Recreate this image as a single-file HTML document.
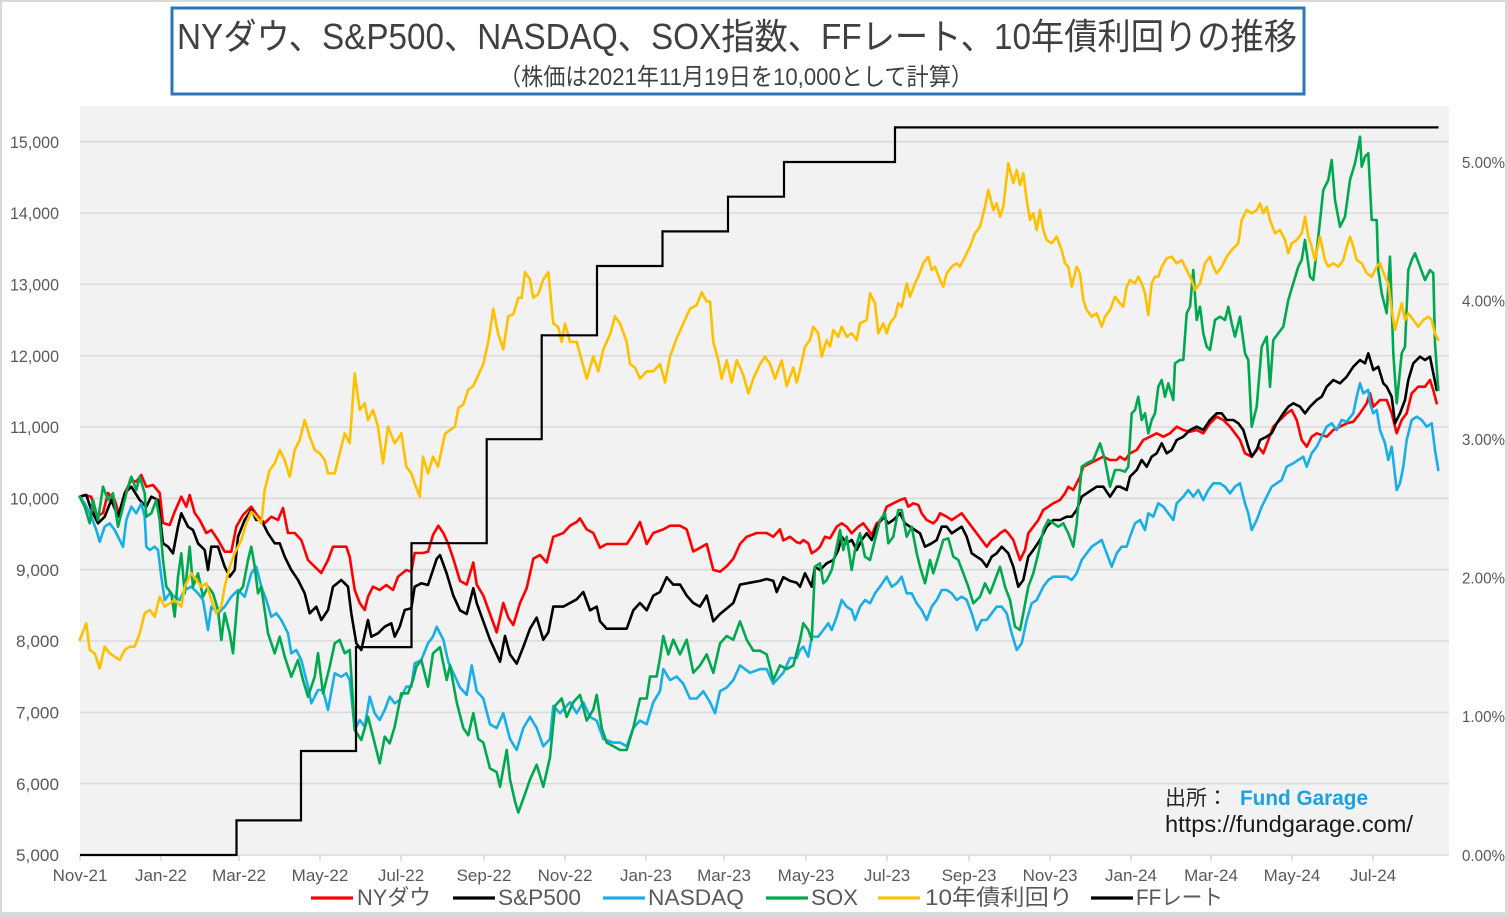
<!DOCTYPE html>
<html><head><meta charset="utf-8"><style>
html,body{margin:0;padding:0;background:#fff;}
svg{display:block;}
text{font-family:"Liberation Sans","Noto Sans CJK JP",sans-serif;}
</style></head><body>
<svg width="1508" height="917" viewBox="0 0 1508 917" xmlns="http://www.w3.org/2000/svg">
<rect x="0" y="0" width="1508" height="917" fill="#d9d9d9"/>
<rect x="2" y="2" width="1503" height="910" fill="#ffffff"/>
<!-- title box -->
<rect x="172" y="8" width="1132" height="86" fill="#fff" stroke="#2e75b6" stroke-width="3"/>
<text x="177" y="49" font-size="36" fill="#404040" textLength="1120" lengthAdjust="spacingAndGlyphs">NYダウ、S&amp;P500、NASDAQ、SOX指数、FFレート、10年債利回りの推移</text>
<text x="499" y="85" font-size="24" fill="#404040" textLength="474" lengthAdjust="spacingAndGlyphs">（株価は2021年11月19日を10,000として計算）</text>
<!-- plot area -->
<rect x="80" y="106" width="1369" height="749" fill="#f2f2f2"/>
<g stroke="#d9d9d9" stroke-width="1.6">
<line x1="80" x2="1449" y1="141.7" y2="141.7"/>
<line x1="80" x2="1449" y1="213" y2="213"/>
<line x1="80" x2="1449" y1="284.3" y2="284.3"/>
<line x1="80" x2="1449" y1="355.7" y2="355.7"/>
<line x1="80" x2="1449" y1="427" y2="427"/>
<line x1="80" x2="1449" y1="498.3" y2="498.3"/>
<line x1="80" x2="1449" y1="569.7" y2="569.7"/>
<line x1="80" x2="1449" y1="641" y2="641"/>
<line x1="80" x2="1449" y1="712.3" y2="712.3"/>
<line x1="80" x2="1449" y1="783.7" y2="783.7"/>
<line x1="80" x2="1449" y1="855" y2="855"/>
<line x1="80" x2="80" y1="855" y2="861"/><line x1="161" x2="161" y1="855" y2="861"/><line x1="239" x2="239" y1="855" y2="861"/><line x1="320" x2="320" y1="855" y2="861"/><line x1="401" x2="401" y1="855" y2="861"/><line x1="484" x2="484" y1="855" y2="861"/><line x1="565" x2="565" y1="855" y2="861"/><line x1="646" x2="646" y1="855" y2="861"/><line x1="724" x2="724" y1="855" y2="861"/><line x1="806" x2="806" y1="855" y2="861"/><line x1="887" x2="887" y1="855" y2="861"/><line x1="969" x2="969" y1="855" y2="861"/><line x1="1050" x2="1050" y1="855" y2="861"/><line x1="1131" x2="1131" y1="855" y2="861"/><line x1="1211" x2="1211" y1="855" y2="861"/><line x1="1292" x2="1292" y1="855" y2="861"/><line x1="1373" x2="1373" y1="855" y2="861"/>
</g>
<!-- left axis labels -->
<g font-size="17" fill="#595959" text-anchor="end">
<text x="59" y="147.8" textLength="49" lengthAdjust="spacingAndGlyphs">15,000</text>
<text x="59" y="219.1" textLength="49" lengthAdjust="spacingAndGlyphs">14,000</text>
<text x="59" y="290.4" textLength="49" lengthAdjust="spacingAndGlyphs">13,000</text>
<text x="59" y="361.8" textLength="49" lengthAdjust="spacingAndGlyphs">12,000</text>
<text x="59" y="433.1" textLength="49" lengthAdjust="spacingAndGlyphs">11,000</text>
<text x="59" y="504.4" textLength="49" lengthAdjust="spacingAndGlyphs">10,000</text>
<text x="59" y="575.8" textLength="43" lengthAdjust="spacingAndGlyphs">9,000</text>
<text x="59" y="647.1" textLength="43" lengthAdjust="spacingAndGlyphs">8,000</text>
<text x="59" y="718.4" textLength="43" lengthAdjust="spacingAndGlyphs">7,000</text>
<text x="59" y="789.8" textLength="43" lengthAdjust="spacingAndGlyphs">6,000</text>
<text x="59" y="861.1" textLength="43" lengthAdjust="spacingAndGlyphs">5,000</text>
</g>
<!-- right axis labels -->
<g font-size="16" fill="#595959">
<text x="1462" y="168" textLength="43" lengthAdjust="spacingAndGlyphs">5.00%</text>
<text x="1462" y="306.4" textLength="43" lengthAdjust="spacingAndGlyphs">4.00%</text>
<text x="1462" y="445" textLength="43" lengthAdjust="spacingAndGlyphs">3.00%</text>
<text x="1462" y="583.6" textLength="43" lengthAdjust="spacingAndGlyphs">2.00%</text>
<text x="1462" y="722.2" textLength="43" lengthAdjust="spacingAndGlyphs">1.00%</text>
<text x="1462" y="860.8" textLength="43" lengthAdjust="spacingAndGlyphs">0.00%</text>
</g>
<!-- x axis labels -->
<g font-size="17" fill="#595959" text-anchor="middle">
<text x="80" y="881">Nov-21</text><text x="161" y="881">Jan-22</text><text x="239" y="881">Mar-22</text><text x="320" y="881">May-22</text><text x="401" y="881">Jul-22</text><text x="484" y="881">Sep-22</text><text x="565" y="881">Nov-22</text><text x="646" y="881">Jan-23</text><text x="724" y="881">Mar-23</text><text x="806" y="881">May-23</text><text x="887" y="881">Jul-23</text><text x="969" y="881">Sep-23</text><text x="1050" y="881">Nov-23</text><text x="1131" y="881">Jan-24</text><text x="1211" y="881">Mar-24</text><text x="1292" y="881">May-24</text><text x="1373" y="881">Jul-24</text>
</g>
<!-- series -->
<g fill="none" stroke-width="2.6" stroke-linejoin="round" stroke-linecap="round">
<polyline stroke="#ff0000" points="79.7,496.7 84.7,495 91.3,496.7 96.3,516.7 103,513 108,493 114.7,500 119.7,516.7 124.7,493 131.3,480 136.3,481.7 141.3,475 146.3,486.7 153,485 159.7,493 163,523 169.7,525 174.7,511.7 181.3,496.7 186.3,506.7 189.7,495 194.7,513 199.7,520 206.3,533 211.3,530 218,540 224.7,551.7 231.3,551.7 236.3,526.7 243,515 251.3,506.7 258,516.7 264.7,523 271.3,516.7 278,520 283,508 288,533 294.7,533 301.3,540 308,560 314.7,566.7 321.3,573 328,560 333,546.7 341.3,546.7 346.3,546.7 349.7,556.7 354.7,590 359.7,603 364.7,610 368,596.7 373,586.7 379.7,590 386.3,585 393,590 398,576.7 406.3,570 411.3,571.7 414.7,553 423,553 428,551.7 433,535 438.3,525.7 443.3,533 448.3,544 453.3,558.8 460,580.9 466.7,584.6 473.3,562.5 476.7,584.6 483.3,595.6 490,614 496.7,632.4 503.3,603 508.3,617.6 513.3,625 520,603 526.7,588.2 533.3,558.8 540,555 546.7,562.5 553.3,536.8 563.3,533 570,525.7 576.7,522 580,518.4 586.7,529.4 593.3,533 600,547.8 606.7,544 616.7,544 626.7,544 631.7,536.8 640,522 646.7,544 653.3,533 663.3,529.4 670,525.7 680,525.7 686.7,529.4 693.3,551.5 700,547.8 706.7,544 713.3,569.9 720,571.7 726.7,566.2 733.3,558.8 740,544 746.7,536.8 756.7,533 766.7,533 773.3,536.8 780,529.4 783.3,540.4 790,536.8 796.7,542.3 800,543.3 803.3,540 808.3,543.3 811.7,553.3 816.7,550 820,546.7 825,536.7 830,538.3 836.7,526.7 841.7,523.3 846.7,526.7 851.7,533.3 858.3,526.7 863.3,523.3 868.3,530 871.7,535 876.7,523.3 881.7,520 886.7,506.7 893.3,503.3 900,500 905,498.3 908.3,506.7 913.3,503.3 918.3,505 921.7,513.3 926.7,520 933.3,523.3 936.7,520 940,513.3 946.7,516.7 951.7,520 956.7,516.7 961.7,513.3 966.7,520 971.7,526.7 976.7,533.3 981.7,540 986.7,546.7 991.7,540 996.7,536.7 1000,533.3 1005,530 1008.3,533.3 1013.3,540 1020,560 1025,550 1028.3,533.3 1033.3,526.7 1038.3,520 1043.3,510 1048.3,506.7 1053.3,503.3 1060,500 1065,493.3 1068.3,486.7 1073.3,490 1080,476.7 1083.3,466.7 1090,463.3 1096.7,460 1103.3,456.7 1110,460 1116.7,460 1120,456.7 1125,460 1130,453.3 1136.7,450 1143.3,440 1150,436.7 1156.7,433.3 1163.3,436.7 1170,433.3 1176.7,426.7 1183.3,430 1190,431.7 1196.7,430 1203.3,433.3 1210,423.3 1216.7,416.7 1223.3,420 1230,426.7 1235,433.3 1240,440 1245,453.3 1251.7,456.7 1258.3,446.7 1263.3,453.3 1268.3,440 1273.3,426.7 1280,420 1286.7,413.3 1291.7,410 1296.7,420 1301.7,440 1306.7,446.7 1311.7,436.7 1316.7,433.3 1321.7,435 1326.7,436.7 1333.3,430 1340,426.7 1346.7,423.3 1353.3,421.7 1360,413.3 1366.7,403.3 1370,393.3 1373.3,406.7 1380,400 1386.7,400 1391.7,413.3 1396.7,433.3 1401.7,420 1406.7,413.3 1411.7,393.3 1418.3,386.7 1425,386.7 1430,380 1433.3,390 1436.7,403.3"/>
<polyline stroke="#000000" points="79.7,496.7 86.3,495 91.3,510 98,523.3 104.7,516.7 111.3,500 118,516.7 124.7,493.3 131.3,486.7 139.7,500 146.3,506.7 151.3,496.7 158,500 163,543.3 168,546.7 173,553.3 178,526.7 181.3,513.3 188,526.7 193,530 198,543.3 204.7,550 208,570 211.3,546.7 218,546.7 224.7,566.7 229.7,576.7 234.7,570 238,536.7 244.7,520 251.3,510 256.3,520 261.3,520 268,533.3 274.7,543.3 279.7,543.3 284.7,556.7 291.3,570 298,580 304.7,593.3 309.7,613.3 316.3,606.7 321.3,620 328,610 333,586.7 341.3,580 348,586.7 351.3,613.3 356.3,643.3 361.3,650 368,620 371.3,636.7 378,633.3 384.7,626.7 391.3,623.3 394.7,636.7 399.7,626.7 404.7,610 411.3,608.3 414.7,586.7 421.3,583.3 428,585 436.7,558.8 440,555.1 446.7,573.5 453.3,595.6 460,610.3 466.7,614 473.3,588.2 476.7,603 483.3,621.3 490,639.7 496.7,654.4 500,661.8 505,636 510,654.4 516.7,663.6 523.3,647 530,628.7 536.7,617.6 543.3,639.7 548.3,632.4 553.3,606.6 563.3,606.6 570,603 576.7,599.3 583.3,592 590,610.3 596.7,606.6 600,621.3 606.7,628.7 616.7,628.7 626.7,628.7 633.3,610.3 640,603 646.7,610.3 653.3,595.6 660,592 666.7,577.2 673.3,584.6 680,584.6 686.7,595.6 693.3,603 700,606.6 706.7,595.6 713.3,621.3 720,614 726.7,608.5 733.3,603 740,584.6 750,582.7 760,580.9 766.7,579 773.3,580.9 776.7,592 783.3,577.2 790,580.9 796.7,582.7 800,586.7 805,573.3 811.7,586.7 815,566.7 820,570 826.7,563.3 833.3,560 838.3,550 841.7,536.7 846.7,543.3 851.7,540 856.7,550 861.7,540 866.7,533.3 871.7,540 876.7,526.7 883.3,516.7 888.3,523.3 893.3,520 900,513.3 905,523.3 910,526.7 915,530 920,533.3 925,546.7 931.7,543.3 936.7,540 941.7,526.7 946.7,526.7 951.7,533.3 956.7,530 961.7,526.7 966.7,536.7 971.7,553.3 976.7,556.7 981.7,560 986.7,566.7 991.7,556.7 996.7,553.3 1001.7,546.7 1005,550 1008.3,553.3 1013.3,566.7 1018.3,586.7 1023.3,580 1028.3,556.7 1033.3,550 1040,540 1046.7,526.7 1053.3,520 1060,520 1066.7,516.7 1071.7,516.7 1076.7,510 1081.7,496.7 1086.7,493.3 1091.7,490 1096.7,486.7 1103.3,486.7 1110,496.7 1116.7,486.7 1120,486.7 1126.7,490 1130,476.7 1136.7,470 1141.7,460 1146.7,466.7 1151.7,456.7 1156.7,453.3 1161.7,443.3 1166.7,453.3 1171.7,450 1176.7,440 1183.3,436.7 1190,430 1196.7,426.7 1203.3,430 1210,420 1216.7,413.3 1221.7,413.3 1226.7,420 1233.3,420 1238.3,423.3 1243.3,430 1248.3,446.7 1251.7,456.7 1256.7,450 1260,440 1266.7,436.7 1271.7,433.3 1276.7,423.3 1283.3,413.3 1288.3,406.7 1293.3,403.3 1300,406.7 1305,413.3 1310,406.7 1316.7,400 1321.7,396.7 1326.7,386.7 1333.3,380 1340,383.3 1346.7,376.7 1353.3,366.7 1360,360 1365,363.3 1368.3,353.3 1373.3,370 1378.3,366.7 1383.3,383.3 1386.7,386.7 1391.7,396.7 1395,423.3 1400,413.3 1405,400 1408.3,380 1413.3,363.3 1420,356.7 1425,360 1430,356.7 1433.3,373.3 1436.7,390"/>
<polyline stroke="#1aaee8" points="79.7,496.7 84.7,503.3 91.3,516.7 96.3,530 99.7,541.7 104.7,526.7 109.7,523.3 114.7,530 119.7,540 123,546.7 126.3,520 131.3,506.7 136.3,513.3 141.3,503.3 144.7,516.7 146.3,546.7 149.7,550 154.7,546.7 158,550 161.3,576.7 164.7,600 169.7,593.3 174.7,596.7 179.7,600 184.7,590 191.3,586.7 198,593.3 203,600 208,630 211.3,606.7 218,613.3 224.7,606.7 231.3,596.7 238,590 244.7,596.7 251.3,573.3 256.3,566.7 261.3,586.7 266.3,600 271.3,616.7 276.3,613.3 281.3,620 288,633.3 291.3,653.3 296.3,650 301.3,660 308,686.7 311.3,703.3 318,690 323,690 328,710 334.7,673.3 341.3,676.7 346.3,673.3 349.7,680 354.7,730 359.7,720 364.7,726.7 369.7,696.7 374.7,713.3 379.7,720 384.7,710 389.7,696.7 394.7,703.3 399.7,700 406.3,686.7 411.3,686.7 414.7,663.3 421.3,660 428,643.3 433,636.7 436.7,626.8 443.3,639.7 448.3,661.8 453.3,672.8 460,687.5 466.7,694.9 471.7,665.4 476.7,691.2 483.3,698.5 490,724.3 496.7,728 503.3,713.2 510,739 516.7,750 523.3,728 530,716.9 536.7,728 543.3,746.3 550,739 553.3,705.9 560,713.2 570,702.2 576.7,713.2 583.3,702.2 590,716.9 596.7,720.6 603.3,739 613.3,742.6 620,742.6 626.7,746.3 633.3,728 640,720.6 646.7,724.3 653.3,702.2 660,691.2 663.3,669.1 670,680.1 676.7,676.5 683.3,683.8 690,698.5 696.7,698.5 703.3,691.2 710,702.2 715,713.2 720,691.2 726.7,687.5 733.3,680.1 740,665.4 750,672.8 760,669.1 766.7,669.1 773.3,683.8 783.3,672.8 790,658.1 796.7,658.1 800,650 803.3,646.7 808.3,656.7 811.7,636.7 818.3,636.7 823.3,630 828.3,623.3 831.7,630 836.7,616.7 841.7,600 846.7,606.7 851.7,610 855,620 860,606.7 865,600 870,603.3 875,593.3 880,586.7 886.7,576.7 891.7,586.7 896.7,583.3 901.7,576.7 906.7,593.3 911.7,593.3 916.7,603.3 921.7,610 926.7,620 931.7,606.7 936.7,600 941.7,590 946.7,590 951.7,593.3 956.7,600 961.7,596.7 966.7,600 971.7,613.3 976.7,630 981.7,620 986.7,620 991.7,613.3 996.7,606.7 1001.7,606.7 1006.7,613.3 1011.7,633.3 1016.7,650 1021.7,643.3 1026.7,620 1031.7,603.3 1036.7,600 1043.3,586.7 1048.3,580 1053.3,576.7 1060,576.7 1066.7,576.7 1071.7,580 1076.7,573.3 1081.7,560 1086.7,553.3 1091.7,546.7 1096.7,543.3 1101.7,540 1106.7,553.3 1111.7,566.7 1116.7,553.3 1121.7,546.7 1126.7,546.7 1130,536.7 1135,523.3 1140,520 1145,530 1148.3,513.3 1153.3,516.7 1158.3,503.3 1163.3,506.7 1168.3,513.3 1173.3,520 1176.7,503.3 1183.3,496.7 1188.3,490 1193.3,496.7 1198.3,490 1203.3,500 1208.3,490 1213.3,483.3 1220,483.3 1225,486.7 1230,493.3 1235,486.7 1240,483.3 1245,503.3 1248.3,513.3 1251.7,530 1256.7,520 1261.7,506.7 1266.7,496.7 1271.7,486.7 1276.7,483.3 1281.7,480 1286.7,466.7 1293.3,463.3 1298.3,460 1303.3,456.7 1306.7,466.7 1311.7,453.3 1316.7,446.7 1321.7,436.7 1326.7,426.7 1331.7,423.3 1336.7,430 1341.7,420 1346.7,421.7 1353.3,413.3 1356.7,396.7 1360,383.3 1363.3,393.3 1368.3,390 1370,403.3 1373.3,413.3 1376.7,410 1380,430 1385,443.3 1388.3,460 1391.7,446.7 1396.7,490 1400,483.3 1403.3,466.7 1406.7,440 1411.7,420 1416.7,416.7 1421.7,420 1426.7,426.7 1431.7,423.3 1435,450 1438.3,470"/>
<polyline stroke="#00a84f" points="79.7,496.7 84.7,506.7 89.7,523.3 93,500 98,520 103,486.7 108,500 113,493.3 118,526.7 123,506.7 128,486.7 131.3,476.7 136.3,490 139.7,476.7 144.7,493.3 146.3,516.7 151.3,513.3 156.3,500 159.7,520 163,560 166.3,586.7 171.3,593.3 174.7,616.7 178,576.7 181.3,553.3 184.7,593.3 189.7,546.7 193,586.7 198,573.3 203,596.7 208,586.7 213,593.3 218,610 221.3,640 224.7,613.3 229.7,633.3 233,653.3 238,593.3 243,586.7 248,560 251.3,546.7 254.7,566.7 258,593.3 261.3,586.7 268,633.3 274.7,653.3 279.7,636.7 284.7,656.7 291.3,676.7 298,660 303,680 308,696.7 314.7,676.7 318,653.3 323,693.3 329.7,666.7 334.7,643.3 339.7,640 344.7,653.3 349.7,650 354.7,730 361.3,740 368,716.7 374.7,743.3 379.7,763.3 384.7,736.7 389.7,743.3 394.7,726.7 401.3,693.3 408,693.3 413,680 416.3,666.7 421.3,660 428,686.7 433,653.3 440,647.1 446.7,680.1 450,665.4 456.7,702.2 463.3,728 468.3,735.3 473.3,713.2 478.3,739 483.3,742.6 490,768.4 496.7,772.1 500,786.8 506.7,750 510,779.4 515,801.5 518.3,812.5 525,794.1 530,779.4 536.7,764.7 543.3,786.8 550,757.4 555,705.9 561.7,698.5 566.7,716.9 573.3,702.2 580,694.9 586.7,720.6 593.3,709.6 596.7,694.9 601.7,727.9 606.7,742.6 613.3,746.3 620,750 626.7,750 633.3,727.9 640,698.5 646.7,698.5 650,676.5 656.7,676.5 660,658.1 663.3,636 668.3,654.4 673.3,639.7 680,654.4 686.7,639.7 693.3,672.8 700,665.4 706.7,654.4 713.3,672.8 720,643.4 726.7,636 733.3,639.7 740,621.3 746.7,639.7 753.3,650.7 760,650.7 766.7,654.4 773.3,680.1 780,665.4 786.7,669.1 793.3,665.4 800,640 803.3,623.3 808.3,630 811.7,640 815,566.7 820,563.3 823.3,583.3 826.7,580 831.7,570 836.7,546.7 840,530 843.3,550 846.7,536.7 851.7,570 855,550 860,533.3 865,556.7 870,560 875,540 880,520 885,513.3 888.3,543.3 893.3,536.7 898.3,510 901.7,510 906.7,536.7 911.7,526.7 916.7,553.3 920,566.7 925,583.3 930,560 933.3,573.3 938.3,556.7 943.3,540 948.3,538.3 953.3,556.7 958.3,560 963.3,573.3 968.3,586.7 973.3,603.3 980,596.7 985,583.3 990,593.3 995,580 1000,566.7 1005,586.7 1010,600 1015,626.7 1020,630 1023.3,613.3 1028.3,586.7 1033.3,573.3 1038.3,553.3 1043.3,530 1048.3,520 1053.3,523.3 1058.3,526.7 1063.3,523.3 1068.3,533.3 1073.3,546.7 1076.7,523.3 1081.7,466.7 1086.7,463.3 1093.3,460 1100,443.3 1105,460 1110,486.7 1115,470 1120,470 1125,471.7 1128.3,466.7 1131.7,413.3 1135,410 1138.3,396.7 1141.7,420 1145,413.3 1148.3,433.3 1151.7,420 1155,413.3 1158.3,386.7 1161.7,380 1165,396.7 1168.3,383.3 1173.3,400 1175,363.3 1180,360 1183.3,360 1186.7,313.3 1190,306.7 1193.3,270 1196.7,320 1200,306.7 1203.3,333.3 1206.7,346.7 1210,350 1215,320 1220,316.7 1225,320 1228.3,306.7 1231.7,323.3 1235,336.7 1240,316.7 1245,353.3 1248.3,360 1251.7,426.7 1256.7,406.7 1261.7,346.7 1266.7,336.7 1270,386.7 1273.3,340 1278.3,333.3 1283.3,326.7 1288.3,300 1293.3,283.3 1298.3,266.7 1301.7,260 1305,240 1310,276.7 1313.3,280 1318.3,236.7 1323.3,190 1328.3,180 1331.7,160 1335,200 1340,226.7 1345,216.7 1350,180 1355,163.3 1358.3,146.7 1360,136.7 1361.7,166.7 1365,156.7 1368.3,153.3 1371.7,220 1376.7,220 1378.3,270 1381.7,293.3 1386.7,313.3 1390,256.7 1393.3,353.3 1396.7,403.3 1401.7,353.3 1405,346.7 1408.3,270 1411.7,260 1415,253.3 1420,266.7 1425,280 1430,270 1433.3,273.3 1435,343.3 1438.3,390"/>
<polyline stroke="#ffc000" points="79.7,640 86.3,623.3 89.7,650 94.7,653.3 99.7,668.3 104.7,646.7 109.7,653.3 114.7,656.7 119.7,660 124.7,650 129.7,646.7 134.7,646.7 139.7,633.3 144.7,613.3 149.7,610 154.7,616.7 159.7,596.7 164.7,606.7 169.7,603.3 174.7,600 181.3,606.7 184.7,586.7 191.3,573.3 196.3,580 201.3,586.7 206.3,583.3 211.3,600 216.3,613.3 221.3,606.7 224.7,586.7 229.7,566.7 234.7,553.3 241.3,540 246.3,523.3 251.3,511.7 256.3,516.7 261.3,523.3 264.7,490 269.7,470 274.7,463.3 279.7,450 284.7,460 289.7,476.7 294.7,450 299.7,440 304.7,420 309.7,436.7 314.7,450 319.7,453.3 324.7,460 328,473.3 334.7,473.3 339.7,453.3 344.7,433.3 349.7,443.3 354.7,373.3 359.7,410 364.7,403.3 368,420 373,410 378,426.7 383,463.3 388,426.7 394.7,443.3 401.3,433.3 406.3,466.7 411.3,473.3 414.7,483.3 419.7,496.7 423,456.7 428,473.3 433,456.7 438,466.7 445,433.8 450,430.1 455,426.5 458.3,408.1 463.3,404.4 468.3,389.7 473.3,386 478.3,375 483.3,364 488.3,341.9 493.3,308.8 498.3,334.6 503.3,349.3 508.3,316.2 513.3,314.3 518.3,297.8 521.7,297.8 525,272.1 530,279.4 533.3,297.8 538.3,294.1 543.3,279.4 548.3,272.1 553.3,323.5 558.3,327.2 561.7,341.9 565,323.5 570,341.9 576.7,341.9 581.7,360.3 586.7,378.7 593.3,356.6 598.3,371.3 603.3,349.3 610,334.6 615,316.2 620,323.5 626.7,341.9 630,364 635,367.6 640,378.7 646.7,371.3 653.3,371.3 660,364 665,382.4 670,356.6 676.7,338.2 683.3,323.5 690,308.8 696.7,305.1 701.7,292.3 706.7,301.5 710,301.5 713.3,341.9 718.3,360.3 721.7,378.7 726.7,360.3 731.7,382.4 736.7,360.3 743.3,375 748.3,393.4 753.3,378.7 760,364 765,356.6 770,364 775,378.7 781.7,360.3 786.7,386 793.3,367.6 796.7,382.4 800,370 805,346.7 810,340 813.3,326.7 818.3,333.3 821.7,356.7 826.7,340 830,346.7 833.3,330 838.3,336.7 841.7,326.7 846.7,336.7 851.7,333.3 856.7,340 860,323.3 866.7,320 870,293.3 875,303.3 878.3,333.3 883.3,323.3 886.7,333.3 890,323.3 895,316.7 898.3,303.3 901.7,306.7 906.7,283.3 910,296.7 915,283.3 918.3,276.7 923.3,263.3 928.3,256.7 931.7,270 935,266.7 940,280 943.3,286.7 946.7,273.3 951.7,266.7 956.7,263.3 960,266.7 965,256.7 970,246.7 975,233.3 980,226.7 985,206.7 988.3,190 993.3,210 996.7,203.3 1000,216.7 1003.3,206.7 1008.3,163.3 1013.3,183.3 1016.7,170 1020,185 1023.3,173.3 1026.7,200 1030,220 1033.3,213.3 1036.7,230 1040,210 1043.3,230 1046.7,240 1051.7,243.3 1056.7,236.7 1061.7,250 1065,263.3 1068.3,266.7 1071.7,286.7 1076.7,266.7 1080,273.3 1083.3,300 1086.7,310 1091.7,316.7 1096.7,313.3 1101.7,326.7 1105,316.7 1110,310 1115,296.7 1120,303.3 1123.3,306.7 1126.7,286.7 1130,280 1135,283.3 1138.3,276.7 1141.7,283.3 1145,293.3 1148.3,315 1151.7,283.3 1155,276.7 1158.3,276.7 1161.7,266.7 1166.7,258.3 1171.7,256.7 1176.7,263.3 1181.7,260 1186.7,270 1191.7,280 1195,290 1200,283.3 1205,263.3 1210,256.7 1213.3,266.7 1216.7,273.3 1221.7,266.7 1226.7,256.7 1231.7,250 1235,246.7 1238.3,243.3 1241.7,220 1246.7,210 1251.7,213.3 1256.7,210 1260,203.3 1263.3,213.3 1266.7,206.7 1270,220 1275,233.3 1280,230 1285,240 1288.3,253.3 1291.7,243.3 1296.7,240 1301.7,233.3 1305,216.7 1308.3,236.7 1311.7,246.7 1315,260 1320,236.7 1325,260 1328.3,266.7 1333.3,263.3 1338.3,266.7 1343.3,260 1346.7,246.7 1350,236.7 1353.3,246.7 1356.7,260 1361.7,263.3 1366.7,273.3 1371.7,276.7 1376.7,266.7 1380,263.3 1385,276.7 1388.3,283.3 1391.7,310 1395,330 1398.3,316.7 1401.7,303.3 1405,320 1408.3,313.3 1413.3,320 1418.3,326.7 1423.3,320 1428.3,316.7 1431.7,320 1435,333.3 1438.3,340"/>
<path stroke="#000000" stroke-width="2.2" stroke-linejoin="miter" stroke-linecap="butt" d="M80,855 H236.5 V820.4 H301 V751 H356 V647.1 H411.5 V543.2 H486.7 V439.2 H541.7 V335.3 H597 V266 H662.5 V231.4 H728 V196.7 H784 V162 H895 V127.4 H1438.5"/>
</g>
<!-- source -->
<text x="1165" y="805" font-size="21" fill="#262626">出所：</text>
<text x="1240" y="805" font-size="21" font-weight="bold" fill="#1ba1e2" textLength="128" lengthAdjust="spacingAndGlyphs">Fund Garage</text>
<text x="1165" y="832" font-size="23" fill="#1a1a1a" textLength="248" lengthAdjust="spacingAndGlyphs">https://fundgarage.com/</text>
<!-- legend -->
<g stroke-width="3.2">
<line x1="311" x2="353" y1="898" y2="898" stroke="#ff0000"/>
<line x1="453" x2="495" y1="898" y2="898" stroke="#000000"/>
<line x1="603" x2="645" y1="898" y2="898" stroke="#1aaee8"/>
<line x1="766" x2="808" y1="898" y2="898" stroke="#00a84f"/>
<line x1="878" x2="920" y1="898" y2="898" stroke="#ffc000"/>
<line x1="1091" x2="1133" y1="898" y2="898" stroke="#000000"/>
</g>
<g font-size="22" fill="#595959">
<text x="357" y="905" textLength="74" lengthAdjust="spacingAndGlyphs">NYダウ</text>
<text x="498" y="905" textLength="83" lengthAdjust="spacingAndGlyphs">S&amp;P500</text>
<text x="648" y="905" textLength="96" lengthAdjust="spacingAndGlyphs">NASDAQ</text>
<text x="811" y="905" textLength="47" lengthAdjust="spacingAndGlyphs">SOX</text>
<text x="925" y="905" textLength="148" lengthAdjust="spacingAndGlyphs">10年債利回り</text>
<text x="1136" y="905" textLength="87" lengthAdjust="spacingAndGlyphs">FFレート</text>
</g>
</svg>
</body></html>
